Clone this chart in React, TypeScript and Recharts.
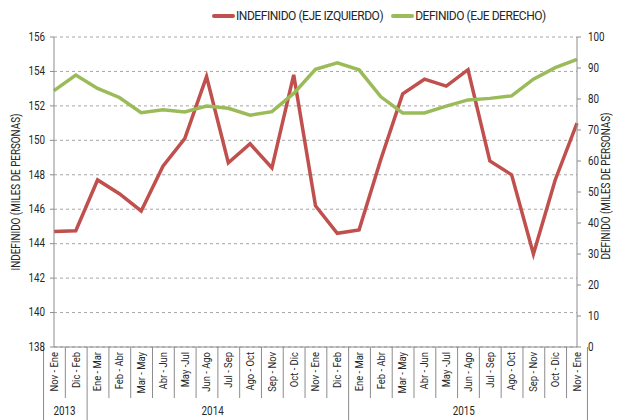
import React from "react";
import {
  LineChart,
  Line,
  XAxis,
  YAxis,
  CartesianGrid,
  Legend,
} from "recharts";

// Categories (rolling quarters) and year groups
const periods = [
  "Nov - Ene", "Dic - Feb",
  "Ene - Mar", "Feb - Abr", "Mar - May", "Abr - Jun", "May -Jul", "Jun - Ago",
  "Jul - Sep", "Ago - Oct", "Sep - Nov", "Oct - Dic", "Nov - Ene", "Dic - Feb",
  "Ene - Mar", "Feb - Abr", "Mar - May", "Abr - Jun", "May -Jul", "Jun - Ago",
  "Jul - Sep", "Ago - Oct", "Sep - Nov", "Oct - Dic", "Nov - Ene",
];
const yearNames = ["2013", "2014", "2015"];
const yearCounts = [2, 12, 11];

// Series values (miles de personas)
const indefinido = [
  144.7, 144.75, 147.7, 146.9, 145.9, 148.5, 150.1, 153.7, 148.7, 149.8,
  148.4, 153.8, 146.2, 144.6, 144.8, 148.9, 152.7, 153.55, 153.15, 154.1,
  148.8, 148.0, 143.4, 147.7, 151.0,
];
const definido = [
  82.7, 87.7, 83.4, 80.5, 75.6, 76.5, 75.8, 77.7, 77.0, 74.8,
  75.9, 81.8, 89.6, 91.7, 89.4, 80.7, 75.5, 75.5, 77.7, 79.7,
  80.2, 81.0, 86.4, 90.1, 92.8,
];

const leftTicks = [138, 140, 142, 144, 146, 148, 150, 152, 154, 156];
const rightTicks = [0, 10, 20, 30, 40, 50, 60, 70, 80, 90, 100];

const RED = "#C0504D";
const GREEN = "#9BBB59";
const TEXT = "#262626";
const FONT = "Roboto, 'Liberation Sans', sans-serif";
const NARROW = 0.82; // horizontal squeeze to mimic a narrow face

const W = 619;
const H = 420;
const PLOT_LEFT = 54;
const PLOT_RIGHT = 577;
const PLOT_BOTTOM = 347;
const STEP = (PLOT_RIGHT - PLOT_LEFT) / periods.length;

const data = periods.map((p, i) => ({
  period: p,
  indefinido: indefinido[i],
  definido: definido[i],
}));

// start index of each year group
const yearStarts = yearCounts.map((_, i) =>
  yearCounts.slice(0, i).reduce((a, b) => a + b, 0)
);

function PeriodTick(props: any) {
  const { x, payload, index } = props;
  const left = x - STEP / 2;
  const g = yearStarts.indexOf(index);
  const isLast = index === periods.length - 1;
  const ty = PLOT_BOTTOM + 5;
  return (
    <g>
      <line x1={left} x2={left} y1={PLOT_BOTTOM} y2={g >= 0 ? H : 398} stroke="#8c8c8c" />
      {isLast && (
        <line x1={x + STEP / 2} x2={x + STEP / 2} y1={PLOT_BOTTOM} y2={H} stroke="#8c8c8c" />
      )}
      <text
        transform={`translate(${x}, ${ty}) rotate(-90) scale(${NARROW}, 1)`}
        textAnchor="end"
        dominantBaseline="central"
        fontSize={11.5}
        fill={TEXT}
        fontFamily={FONT}
      >
        {payload.value}
      </text>
      {g >= 0 && (
        <text
          transform={`translate(${left + (yearCounts[g] * STEP) / 2}, 411) scale(${NARROW}, 1)`}
          textAnchor="middle"
          dominantBaseline="central"
          fontSize={12}
          fill={TEXT}
          fontFamily={FONT}
        >
          {yearNames[g]}
        </text>
      )}
    </g>
  );
}

function ValueTick(props: any) {
  const { x, y, payload, side } = props;
  const dx = side === "left" ? -3 : 5;
  return (
    <text
      transform={`translate(${x + dx}, ${y}) scale(${NARROW}, 1)`}
      textAnchor={side === "left" ? "end" : "start"}
      dominantBaseline="central"
      fontSize={12}
      fill={TEXT}
      fontFamily={FONT}
    >
      {payload.value}
    </text>
  );
}

function LegendContent() {
  const items = [
    { label: "INDEFINIDO (EJE IZQUIERDO)", color: RED },
    { label: "DEFINIDO (EJE DERECHO)", color: GREEN },
  ];
  return (
    <div
      style={{
        display: "flex",
        alignItems: "center",
        fontFamily: FONT,
        fontSize: 12,
        letterSpacing: -0.45,
        color: TEXT,
        whiteSpace: "nowrap",
      }}
    >
      {items.map((it) => (
        <div key={it.label} style={{ display: "flex", alignItems: "center", marginRight: 8 }}>
          <span
            style={{
              display: "inline-block",
              width: 23,
              height: 4,
              borderRadius: 2,
              background: it.color,
              marginRight: 1,
            }}
          />
          <span>{it.label}</span>
        </div>
      ))}
    </div>
  );
}

const axisTitle: React.CSSProperties = {
  position: "absolute",
  width: 300,
  height: 14,
  lineHeight: "14px",
  textAlign: "center",
  fontFamily: FONT,
  fontSize: 12,
  color: TEXT,
  transform: `rotate(-90deg) scaleX(${NARROW})`,
  whiteSpace: "nowrap",
};

export default function App() {
  return (
    <div style={{ position: "absolute", left: 0, top: 0, width: W, height: H, background: "#fff" }}>
      <LineChart
        width={W}
        height={H}
        data={data}
        margin={{ top: 37, right: 0, left: 0, bottom: 0 }}
      >
        <CartesianGrid
          yAxisId="left"
          vertical={false}
          stroke="#a6a6a6"
          strokeDasharray="3 3"
        />
        <XAxis
          dataKey="period"
          interval={0}
          height={H - PLOT_BOTTOM}
          axisLine={{ stroke: "#8c8c8c" }}
          tickLine={false}
          tick={<PeriodTick />}
        />
        <YAxis
          yAxisId="left"
          width={PLOT_LEFT}
          domain={[138, 156]}
          ticks={leftTicks}
          interval={0}
          axisLine={{ stroke: "#8c8c8c" }}
          tickLine={{ stroke: "#8c8c8c" }}
          tickSize={4}
          tick={<ValueTick side="left" />}
        />
        <YAxis
          yAxisId="right"
          orientation="right"
          width={W - PLOT_RIGHT}
          domain={[0, 100]}
          ticks={rightTicks}
          interval={0}
          axisLine={{ stroke: "#8c8c8c" }}
          tickLine={{ stroke: "#8c8c8c" }}
          tickSize={4}
          tick={<ValueTick side="right" />}
        />
        <Legend
          verticalAlign="middle"
          align="center"
          content={<LegendContent />}
          wrapperStyle={{ top: 9, left: 212, width: "auto" }}
        />
        <Line
          yAxisId="left"
          type="linear"
          dataKey="indefinido"
          stroke={RED}
          strokeWidth={3.5}
          dot={false}
          isAnimationActive={false}
        />
        <Line
          yAxisId="right"
          type="linear"
          dataKey="definido"
          stroke={GREEN}
          strokeWidth={3.5}
          dot={false}
          isAnimationActive={false}
        />
      </LineChart>
      <div style={{ ...axisTitle, left: 16 - 150, top: 192 - 7 }}>
        INDEFINIDO (MILES DE PERSONAS)
      </div>
      <div style={{ ...axisTitle, left: 606 - 150, top: 186 - 7 }}>
        DEFINIDO (MILES DE PERSONAS)
      </div>
    </div>
  );
}
